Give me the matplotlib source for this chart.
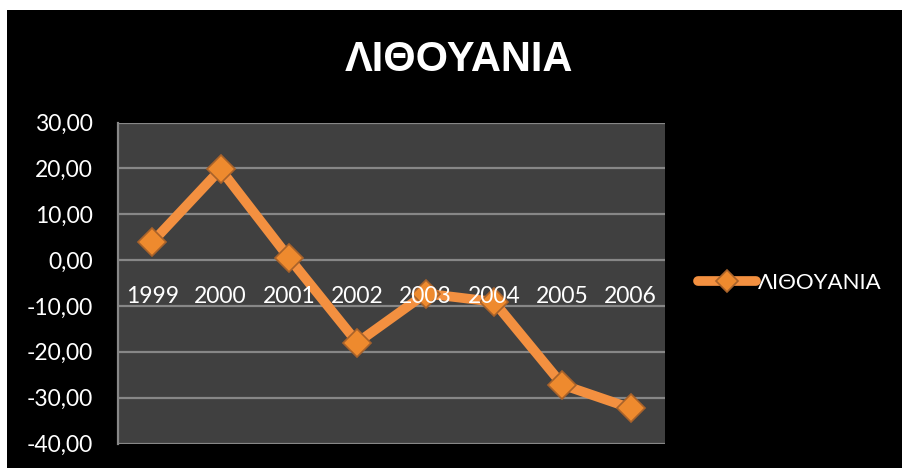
import matplotlib.pyplot as plt

# data
years = ['1999', '2000', '2001', '2002', '2003', '2004', '2005', '2006']
values = [3.9, 19.8, 0.5, -18.0, -7.3, -9.1, -27.2, -32.3]
yticks = [30, 20, 10, 0, -10, -20, -30, -40]
ytick_labels = ['30,00', '20,00', '10,00', '0,00', '-10,00', '-20,00', '-30,00', '-40,00']
series_name = 'ΛΙΘΟΥΑΝΙΑ'

orange = '#F39040'
grid_col = '#878787'

fig = plt.figure(figsize=(9.03, 4.68), dpi=100)
fig.patch.set_facecolor('white')
# black chart area with thin white border top/left
fig.add_artist(plt.Rectangle((7 / 903, 0), 1, 1 - 10 / 468, transform=fig.transFigure,
                             facecolor='black', edgecolor='none', zorder=-10))

ax = fig.add_axes([118 / 903, 24.5 / 468, 547 / 903, 321 / 468])
ax.set_facecolor('#404040')

x = list(range(len(years)))
ax.plot(x, values, color=orange, lw=7, marker='D', ms=14,
        mfc='#EE8A2E', mec='#A8622A', mew=1.2, label=series_name,
        solid_joinstyle='miter', solid_capstyle='round', zorder=3)

ax.set_xlim(-0.5, len(years) - 0.5)
ax.set_ylim(-40, 30)
ax.set_yticks(yticks)
ax.set_yticklabels(ytick_labels)
ax.set_xticks([])
ax.tick_params(axis='y', length=0, pad=18, labelsize=16.5, labelcolor='white')
for lbl in ax.get_yticklabels():
    lbl.set_family('Lato')

ax.grid(axis='y', color=grid_col, lw=1.6, zorder=1)
ax.set_axisbelow(True)
for s in ['top', 'right', 'bottom']:
    ax.spines[s].set_visible(False)
ax.spines['left'].set_color(grid_col)
ax.spines['left'].set_linewidth(1.6)

# category labels sit just below the zero line, drawn over the line
for i, yr in enumerate(years):
    ax.annotate(yr, (i, 0), xytext=(0, -19), textcoords='offset points',
                ha='center', va='top', color='white', fontsize=16.5,
                family='Lato', zorder=5)

fig.text(459 / 903, 1 - 60 / 468, series_name, ha='center', va='center',
         color='white', fontsize=30, fontweight='bold', family='Liberation Sans')

leg = fig.legend(loc='center left', bbox_to_anchor=(698 / 903, 1 - 283 / 468),
                 frameon=False, handlelength=2.6, handletextpad=0.1,
                 borderpad=0, borderaxespad=0, markerscale=0.8,
                 prop={'family': 'Lato', 'size': 16})
for t in leg.get_texts():
    t.set_color('white')

fig.savefig('out.png', dpi=100, facecolor=fig.get_facecolor())
